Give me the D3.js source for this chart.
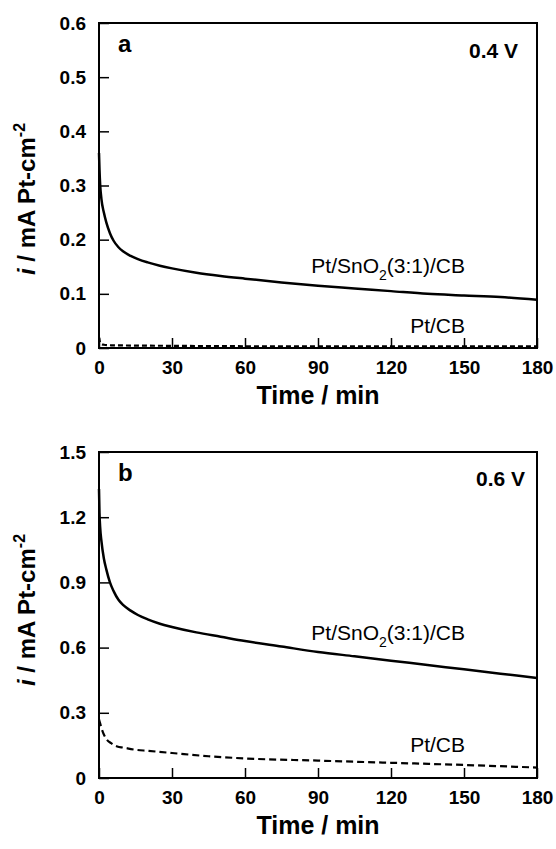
<!DOCTYPE html>
<html>
<head>
<meta charset="utf-8">
<script src="https://cdn.jsdelivr.net/npm/d3@7"></script>
<style>
  body { margin: 0; background: #fff; }
  svg { font-family: 'Liberation Sans', Arial, sans-serif; }
</style>
</head>
<body>
<div id="chart"></div>
<script>
// Panel a (0.4 V) data
var timeA = [0, 0.2, 0.5, 1, 2, 3, 4.5, 6, 8, 10, 13, 16, 20, 25, 30, 40, 50, 60, 75, 90, 105, 120, 135, 150, 165, 180]
var snoA = [0.36, 0.33, 0.3, 0.275, 0.25, 0.232, 0.212, 0.198, 0.186, 0.178, 0.17, 0.164, 0.158, 0.152, 0.147, 0.139, 0.133, 0.128, 0.121, 0.115, 0.11, 0.105, 0.1, 0.097, 0.094, 0.089]
var timeCbA = [0, 0.5, 2, 5, 30, 90, 180]
var cbA = [0.02, 0.01, 0.006, 0.005, 0.004, 0.003, 0.003]

// Panel b (0.6 V) data
var timeB = [0, 0.2, 0.5, 1, 2, 3, 4.5, 6, 8, 10, 13, 16, 20, 25, 30, 40, 50, 60, 75, 90, 105, 120, 135, 150, 165, 180]
var snoB = [1.33, 1.22, 1.15, 1.09, 1.01, 0.96, 0.9, 0.86, 0.82, 0.795, 0.77, 0.75, 0.73, 0.71, 0.695, 0.67, 0.65, 0.63, 0.605, 0.58, 0.56, 0.54, 0.52, 0.5, 0.48, 0.46]
var timeCbB = [0, 0.5, 1, 2, 3, 5, 7.5, 10, 15, 20, 30, 45, 60, 90, 120, 150, 180]
var cbB = [0.27, 0.25, 0.23, 0.2, 0.18, 0.16, 0.145, 0.14, 0.13, 0.125, 0.115, 0.1, 0.09, 0.08, 0.07, 0.06, 0.048]

var xTicks = [0, 30, 60, 90, 120, 150, 180]
var yTicksA = [0, 0.1, 0.2, 0.3, 0.4, 0.5, 0.6]
var yTicksB = [0, 0.3, 0.6, 0.9, 1.2, 1.5]

var panels = [
  { letter: 'a', volt: '0.4 V', top: 23, bottom: 348, yMax: 0.6, yTicks: yTicksA,
    sno: timeA.map((t, i) => ({ t: t, v: snoA[i] })),
    cb: timeCbA.map((t, i) => ({ t: t, v: cbA[i] })),
    dash: '5,3', snoY: 273, cbY: 333, voltX: 518, voltY: 58, titleY: 275, xTitleY: 404 },
  { letter: 'b', volt: '0.6 V', top: 452, bottom: 778, yMax: 1.5, yTicks: yTicksB,
    sno: timeB.map((t, i) => ({ t: t, v: snoB[i] })),
    cb: timeCbB.map((t, i) => ({ t: t, v: cbB[i] })),
    dash: '7,4', snoY: 640, cbY: 752, voltX: 525, voltY: 486, titleY: 686, xTitleY: 834 }
]

var left = 99
var right = 537

var svg = d3.select('#chart')
  .append('svg')
  .attr('width', 556)
  .attr('height', 849)

var xPositionScale = d3.scaleLinear().domain([0, 180]).range([left, right])

panels.forEach(function(p) {
  var yPositionScale = d3.scaleLinear().domain([0, p.yMax]).range([p.bottom, p.top])
  var g = svg.append('g')

  var line = d3.line()
    .x(d => xPositionScale(d.t))
    .y(d => yPositionScale(d.v))
    .curve(d3.curveMonotoneX)

  // y axis, ticks pointing inward
  var yAxis = d3.axisLeft(yPositionScale)
    .tickValues(p.yTicks)
    .tickSize(-10)
    .tickPadding(13)
    .tickFormat(d => d === 0 ? '0' : d3.format('.1f')(d))
  g.append('g')
    .attr('transform', `translate(${left},0)`)
    .call(yAxis)
    .call(a => a.select('.domain').remove())
    .call(a => a.selectAll('line').attr('stroke', '#000').attr('stroke-width', 1.5))
    .call(a => a.selectAll('text').attr('font-size', 19).attr('font-weight', 'bold').attr('fill', '#000'))

  var xAxis = d3.axisBottom(xPositionScale)
    .tickValues(xTicks)
    .tickSize(-10)
    .tickPadding(13)
  g.append('g')
    .attr('transform', `translate(0,${p.bottom})`)
    .call(xAxis)
    .call(a => a.select('.domain').remove())
    .call(a => a.selectAll('line').attr('stroke', '#000').attr('stroke-width', 1.5))
    .call(a => a.selectAll('text').attr('font-size', 19).attr('font-weight', 'bold').attr('fill', '#000'))

  // frame
  g.append('rect')
    .attr('x', left)
    .attr('y', p.top)
    .attr('width', right - left)
    .attr('height', p.bottom - p.top)
    .attr('fill', 'none')
    .attr('stroke', '#000')
    .attr('stroke-width', 2)

  // curves
  g.append('path')
    .datum(p.sno)
    .attr('d', line)
    .attr('fill', 'none')
    .attr('stroke', '#000')
    .attr('stroke-width', 2.5)

  g.append('path')
    .datum(p.cb)
    .attr('d', line)
    .attr('fill', 'none')
    .attr('stroke', '#000')
    .attr('stroke-width', 2.2)
    .attr('stroke-dasharray', p.dash)

  // curve labels
  var lab = g.append('text')
    .attr('x', 465)
    .attr('y', p.snoY)
    .attr('text-anchor', 'end')
    .attr('font-size', 21)
  lab.append('tspan').text('Pt/SnO')
  lab.append('tspan').text('2').attr('font-size', 14).attr('dy', 7)
  lab.append('tspan').text('(3:1)/CB').attr('dy', -7)

  g.append('text')
    .attr('x', 465)
    .attr('y', p.cbY)
    .attr('text-anchor', 'end')
    .attr('font-size', 21)
    .text('Pt/CB')

  // panel letter and potential
  g.append('text')
    .attr('x', 118)
    .attr('y', p.top + 29)
    .attr('font-size', 24)
    .attr('font-weight', 'bold')
    .text(p.letter)

  g.append('text')
    .attr('x', p.voltX)
    .attr('y', p.voltY)
    .attr('text-anchor', 'end')
    .attr('font-size', 21)
    .attr('font-weight', 'bold')
    .text(p.volt)

  // axis titles
  var yt = g.append('text')
    .attr('transform', `translate(35,${p.titleY}) rotate(-90)`)
    .attr('font-size', 24)
    .attr('font-weight', 'bold')
  yt.append('tspan').text('i').attr('font-style', 'italic')
  yt.append('tspan').text(' / mA Pt-cm')
  yt.append('tspan').text('-2').attr('font-size', 16).attr('dy', -10)

  g.append('text')
    .attr('x', (left + right) / 2)
    .attr('y', p.xTitleY)
    .attr('text-anchor', 'middle')
    .attr('font-size', 25)
    .attr('font-weight', 'bold')
    .text('Time / min')
})
</script>
</body>
</html>
